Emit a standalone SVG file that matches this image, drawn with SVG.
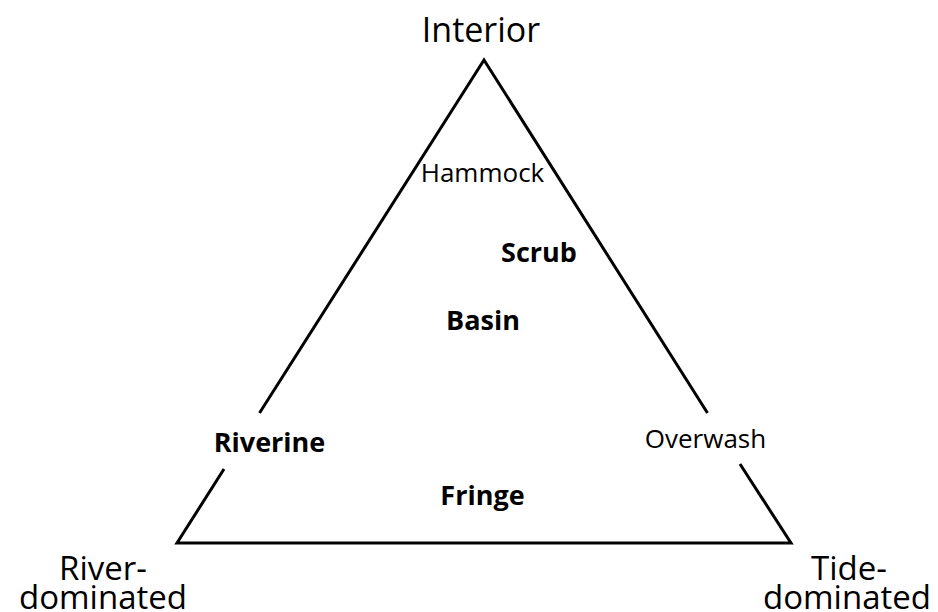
<svg xmlns="http://www.w3.org/2000/svg" width="938" height="612" viewBox="0 0 938 612">
<style>
text{font-family:"Open Sans","Noto Sans","Liberation Sans",sans-serif;fill:#000;text-anchor:middle}
.corner{font-size:33px}
.reg{font-size:26px}
.bold{font-size:27px;font-weight:bold}
.edge{stroke:#000;stroke-width:3;fill:none;stroke-linecap:butt;stroke-linejoin:miter}
</style>
<rect width="938" height="612" fill="#fff"/>
<g id="connectors">
<polyline class="edge" points="259.5,413 484,60 707.5,413"/>
<polyline class="edge" points="224,469 177,543 791,543 740,464"/>
</g>
<g id="interior"><text x="481" y="42" style="font-size:34px">Interior</text></g>
<g id="river-dominated"><text class="corner" x="103" y="580">River-</text><text class="corner" x="103" y="609">dominated</text></g>
<g id="tide-dominated"><text class="corner" x="849" y="580">Tide-</text><text class="corner" x="847" y="609">dominated</text></g>
<g id="hammock"><text class="reg" x="482.5" y="182">Hammock</text></g>
<g id="scrub"><text class="bold" x="539" y="262">Scrub</text></g>
<g id="basin"><text class="bold" x="483" y="330">Basin</text></g>
<g id="riverine"><text class="bold" x="269.5" y="452">Riverine</text></g>
<g id="overwash"><text class="reg" x="705.5" y="448">Overwash</text></g>
<g id="fringe"><text class="bold" x="482.5" y="505">Fringe</text></g>
</svg>
